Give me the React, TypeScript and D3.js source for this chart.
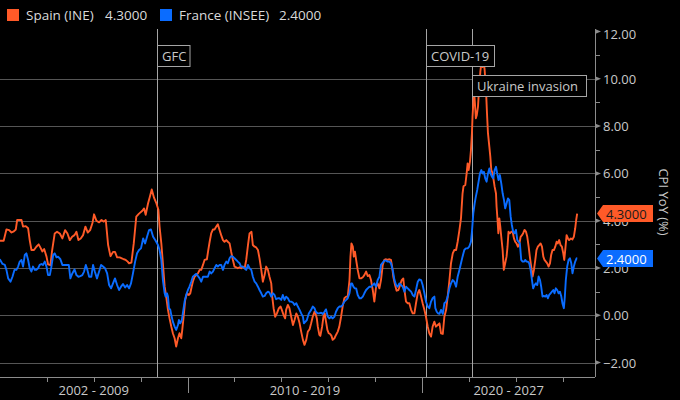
import React from "react";
import * as d3 from "d3";

// ---------- data ----------
const seriesNames = ["Spain (INE)", "France (INSEE)"];
const lastLabels = ["4.3000", "2.4000"];

// [months since Jan 2002, CPI YoY %]
const spainCpi: [number, number][] = [
  [0,3.15],[2,3.15],[3.4,3.63],[4.8,3.6],[6,3.5],[7.2,3.55],[8.2,3.63],[8.9,4.03],[9.9,4.03],[11.1,4.03],[11.9,3.75],[13.3,3.77],[14.5,3.68],[15.3,3.18],[16.2,2.76],[17.5,2.76],[18.7,2.9],[19.9,3.0],[20.8,2.86],[21.8,2.7],[22.7,2.8],[23.9,2.48],[24.7,2.15],[25.9,2.12],[26.7,2.7],[28.1,3.46],[29.3,3.53],[30.7,3.46],[32,3.25],[33.4,3.6],[34.6,3.46],[35.8,3.18],[37,3.32],[38.2,3.39],[39.2,3.53],[40.2,3.18],[41.4,3.25],[42.6,3.39],[43.8,3.75],[45,3.5],[46.2,3.6],[47.4,3.9],[48.2,4.27],[49.4,4.0],[50.8,3.93],[52,4.03],[53.2,3.96],[54.2,4.03],[55.4,2.97],[56.6,2.5],[57.9,2.68],[58.9,2.68],[60,2.45],[61.3,2.45],[62.4,2.41],[63.4,2.37],[64.4,2.34],[65.4,2.27],[66.1,2.2],[67.3,2.23],[68.5,3.04],[69.8,4.17],[71.2,4.3],[72.9,4.42],[73.8,4.52],[74.6,4.25],[75.8,4.73],[76.7,5.0],[77.7,5.32],[78.9,4.96],[80.1,4.73],[81.1,4.46],[81.7,3.75],[82.6,3.04],[83.4,2.2],[84.3,1.21],[85.1,0.79],[86,0.23],[86.8,-0.13],[87.7,-0.48],[88.5,-0.76],[89.4,-0.97],[90.2,-1.32],[91.1,-0.97],[91.9,-0.76],[92.8,-0.97],[93.3,-0.62],[94,-0.06],[94.8,0.65],[95.7,0.93],[96.7,0.86],[97.4,0.93],[98.1,1.21],[98.7,1.42],[99.6,1.63],[100.5,1.7],[101.3,1.77],[102.2,1.92],[103,1.92],[103.9,2.13],[104.7,2.34],[105.9,2.37],[106.6,2.76],[107.3,3.11],[108.1,3.46],[109,3.63],[109.8,3.63],[110.7,3.75],[111.5,3.85],[112.4,3.6],[113.2,3.39],[114.1,3.18],[114.9,3.11],[115.8,3.18],[116.6,3.11],[117.5,3.04],[118.3,2.69],[119.2,2.34],[120,2.06],[120.9,2.03],[121.7,1.99],[122.6,2.03],[123.4,1.99],[124.3,2.06],[125.2,1.99],[126,2.34],[126.9,2.97],[127.7,3.46],[128.7,3.53],[129.4,2.97],[130.3,2.9],[131.1,2.87],[132,2.76],[132.8,2.41],[133.7,1.92],[134.5,1.42],[135.4,1.7],[136.2,2.06],[137.1,1.92],[137.9,1.63],[138.8,1.35],[139.3,0.79],[140,0.3],[140.8,-0.06],[141.7,0.08],[142.7,0.3],[143.6,0.37],[144.2,0.23],[145.1,0.01],[145.9,-0.13],[146.4,0.23],[147.3,0.44],[148.1,0.3],[149,-0.06],[149.9,-0.41],[150.7,-0.2],[151.6,0.08],[152.4,-0.06],[153.3,-0.34],[154.1,-0.69],[155,-1.04],[155.8,-1.25],[156.7,-1.04],[157.5,-0.69],[158.4,-0.59],[159.2,-0.34],[160,-0.06],[160.9,0.15],[161.4,0.08],[162.1,-0.13],[162.6,-0.48],[163.4,-0.83],[163.9,-0.87],[164.8,-0.48],[165.5,-0.06],[166.1,0.08],[166.8,-0.27],[167.5,-0.62],[168.2,-0.76],[168.9,-0.79],[169.6,-0.87],[170.2,-1.04],[171.1,-0.97],[171.9,-0.83],[172.8,-0.69],[173.6,-0.48],[174.5,-0.06],[175.3,0.37],[176.2,0.72],[177.1,0.79],[177.9,0.79],[178.8,1.49],[179.3,2.48],[179.8,3.04],[180.5,2.9],[181,2.48],[181.6,2.69],[182.2,2.34],[183,1.92],[183.9,1.56],[184.7,1.56],[185.6,1.61],[186.4,1.7],[187.3,1.85],[188.1,1.66],[189,1.7],[189.8,1.49],[190.7,1.07],[191.5,0.58],[192.4,1.21],[193.2,1.35],[194.1,1.14],[194.9,1.49],[195.8,2.13],[196.6,2.34],[197.5,2.37],[198.3,2.34],[199.2,2.37],[200,2.34],[200.6,2.06],[201.2,1.63],[202.1,1.28],[202.9,1.04],[203.8,1.07],[204.7,1.28],[205.5,1.49],[206.3,1.56],[206.9,1.07],[207.7,0.58],[208.6,0.51],[209.4,0.51],[210.3,0.23],[211.1,0.08],[212,0.08],[212.8,0.51],[213.7,0.93],[214.5,1.07],[215.4,0.79],[216.2,0.51],[217.1,0.23],[217.9,-0.06],[218.8,-0.48],[219.6,-0.76],[220.5,-0.9],[221.3,-0.48],[222.2,-0.27],[223,-0.48],[223.9,-0.41],[224.8,-0.34],[225.6,-0.76],[226.5,-0.79],[227.3,-0.06],[228.2,0.23],[229,0.79],[229.9,1.49],[230.7,2.2],[231.6,2.62],[232.4,2.76],[233.3,2.76],[234.1,3.11],[235,3.6],[235.8,4.1],[236.6,5.15],[237.1,5.46],[238,5.51],[238.7,6.0],[239.2,6.42],[239.7,6.14],[240.4,6.5],[240.9,6.99],[241.4,7.7],[241.7,8.4],[242.2,9.1],[242.6,9.38],[243.1,8.75],[243.4,8.33],[243.9,8.47],[244.5,8.82],[245.1,9.67],[245.7,10.3],[246.2,10.65],[246.8,10.5],[247.4,10.8],[247.9,10.37],[248.6,9.52],[249.1,8.54],[249.6,7.7],[250.3,7.13],[250.8,6.71],[251.3,6.14],[252,6.0],[252.5,5.72],[253,5.44],[253.7,5.15],[254,4.59],[254.5,4.03],[254.9,3.47],[255.4,4.1],[255.9,3.75],[256.4,3.32],[257.1,2.76],[257.7,1.92],[258.4,2.2],[259.1,2.48],[259.6,2.9],[260.1,3.53],[260.8,3.47],[261.5,3.53],[262.2,3.53],[262.9,3.25],[263.5,3.11],[264.2,3.04],[264.9,2.9],[265.6,3.0],[266.3,3.32],[267,3.39],[267.6,3.47],[268.3,3.61],[269,3.54],[269.7,3.32],[270.4,2.9],[271,2.48],[271.7,2.06],[272.4,1.64],[273.1,1.92],[273.8,2.34],[274.4,2.76],[275.1,2.9],[275.8,2.97],[276.5,3.04],[277.2,2.9],[277.9,2.48],[278.5,2.34],[279.2,2.27],[279.9,2.2],[280.6,2.06],[281.3,2.2],[281.9,2.55],[282.6,2.76],[283.3,2.76],[284,2.9],[284.7,3.11],[285.3,3.04],[286,3.18],[286.7,2.97],[287.4,2.9],[288.1,2.62],[288.6,2.34],[289.1,2.76],[289.8,3.39],[290.5,3.25],[291.1,3.18],[292,3.25],[292.8,3.21],[293.5,3.32],[294.2,3.68],[294.7,4.03],[295.2,4.3]
];

const franceCpi: [number, number][] = [
  [0,2.37],[1.4,2.17],[2.6,2.13],[3.4,1.92],[4.3,1.56],[5.5,1.42],[6.5,1.63],[7.5,1.92],[8.5,1.92],[9.4,2.06],[10.2,2.27],[11.1,2.34],[11.9,2.06],[12.8,2.55],[13.6,2.62],[14.5,2.34],[15.3,1.99],[16.2,1.85],[17,2.06],[17.9,1.92],[18.7,1.92],[19.6,1.99],[20.4,2.13],[21.3,2.17],[22.1,2.13],[23,2.27],[23.9,2.06],[24.7,1.7],[25.6,1.7],[26.4,2.06],[27.3,2.55],[28.1,2.62],[29,2.45],[29.8,2.48],[31,2.37],[32,2.13],[33.2,2.13],[34.1,2.13],[35.3,2.13],[36.1,1.56],[37.1,1.77],[38.2,1.94],[39.2,1.7],[40.2,1.63],[41.2,1.66],[42.2,1.7],[43.1,1.85],[44,2.13],[44.8,1.92],[45.7,1.63],[46.8,1.63],[47.7,2.13],[48.6,1.85],[49.7,1.56],[50.8,1.85],[51.8,2.13],[52.8,2.06],[53.8,1.99],[54.9,1.77],[55.9,1.28],[56.9,1.14],[57.9,1.35],[58.9,1.56],[60,1.28],[61,1.07],[62,1.21],[63,1.32],[64.1,1.18],[65.1,1.28],[66.1,1.14],[67.1,1.35],[68.1,1.77],[69.2,2.27],[70.2,2.62],[71.2,2.76],[72.2,2.83],[73.3,3.25],[74.3,3.04],[75.3,3.32],[76.3,3.6],[77.3,3.63],[78.4,3.32],[79.7,3.15],[80.9,2.97],[81.7,2.76],[82.6,2.34],[83.4,1.49],[84.3,0.93],[84.8,0.79],[85.5,0.93],[86,0.79],[86.5,0.3],[87.2,0.23],[87.7,0.01],[88.5,-0.27],[89.4,-0.48],[90.2,-0.62],[91.1,-0.41],[91.6,-0.2],[92.3,-0.34],[93.1,-0.2],[93.6,0.08],[94.5,0.58],[95.3,0.86],[96.2,1.07],[97,1.21],[97.9,1.42],[98.7,1.63],[99.6,1.7],[100.5,1.75],[101.3,1.66],[102.2,1.56],[103,1.42],[103.9,1.63],[104.7,1.63],[105.6,1.63],[106.4,1.63],[107.3,1.85],[108.1,1.77],[109,1.85],[109.8,1.99],[110.7,2.13],[111.5,2.06],[112.4,2.13],[113.2,2.13],[114.1,1.92],[114.9,2.13],[115.8,2.27],[116.6,2.2],[117.5,2.41],[118.3,2.5],[119.2,2.48],[120,2.41],[120.9,2.34],[121.7,2.27],[122.6,2.2],[123.4,2.06],[124.3,2.06],[125.2,1.99],[126,1.92],[126.9,2.13],[127.7,1.99],[128.6,1.92],[129.4,1.63],[130.3,1.42],[131.1,1.35],[132,1.21],[132.8,1.07],[133.7,0.93],[134.5,0.79],[135.4,0.82],[136.2,0.93],[137.1,1.0],[137.9,0.96],[138.8,0.79],[139.6,0.93],[140.5,0.86],[141.3,0.68],[142.2,0.72],[143,0.72],[143.9,0.65],[144.7,0.86],[145.6,0.65],[146.4,0.79],[147.3,0.72],[148.2,0.58],[149,0.58],[149.9,0.54],[150.7,0.44],[151.6,0.51],[152.4,0.37],[153.3,0.23],[154.1,0.08],[155,-0.06],[155.5,-0.34],[156.3,-0.27],[157,-0.2],[158,0.08],[159.2,0.23],[160,0.37],[160.9,0.3],[161.6,0.15],[162.6,0.08],[163.4,0.08],[164.3,0.11],[165.1,0.06],[166,0.15],[166.8,0.25],[167.7,-0.06],[168.5,-0.13],[169.4,-0.06],[170.2,-0.13],[171.1,-0.06],[171.9,0.15],[172.8,0.3],[173.6,0.37],[174.5,0.37],[175.3,0.44],[176.2,0.58],[177.1,0.65],[177.9,0.72],[178.8,0.93],[179.6,1.35],[180.1,1.35],[180.8,1.21],[181.5,1.14],[182.2,1.14],[183,0.86],[183.9,0.72],[184.7,0.72],[185.6,0.79],[186.4,0.93],[187.3,1.07],[188.1,1.14],[189,1.21],[189.8,1.21],[190.7,1.28],[191.5,1.35],[192.4,1.21],[193.2,1.49],[194.1,1.63],[194.9,2.13],[195.8,2.23],[196.6,2.31],[197.5,2.31],[198.3,2.27],[199.2,2.27],[200,2.2],[200.9,1.92],[201.8,1.49],[202.6,1.28],[203.5,1.21],[204.3,1.35],[205.2,1.28],[206,1.21],[206.9,1.0],[207.7,1.21],[208.6,1.14],[209.4,1.07],[210.3,1.0],[211.1,0.86],[212,0.79],[212.8,1.07],[213.7,1.42],[214.5,1.52],[215.4,1.49],[216.2,1.28],[217.1,0.93],[217.9,0.58],[218.8,0.37],[219.6,0.3],[220.5,0.58],[221.3,0.72],[222.2,0.79],[222.7,0.3],[223.4,0.15],[224.1,0.08],[224.8,0.06],[225.6,0.23],[226.5,0.06],[227.3,0.51],[228.2,0.58],[229,0.79],[229.9,1.14],[230.7,1.35],[231.6,1.49],[232.4,1.42],[233.3,1.21],[234.1,1.63],[235,1.92],[235.8,2.2],[236.6,2.48],[237.5,2.76],[238.3,2.83],[239.2,2.83],[240,2.9],[240.9,3.11],[241.4,3.53],[242.1,4.31],[242.8,4.73],[243.4,5.02],[244.1,5.3],[244.8,5.65],[245.5,6.0],[246.2,6.14],[246.9,6.0],[247.5,6.07],[248.2,5.79],[248.9,5.65],[249.6,6.0],[250.3,6.21],[250.9,6.0],[251.6,5.86],[252.3,5.79],[253,6.14],[253.7,6.28],[254.3,6.0],[255,5.72],[255.7,5.93],[256.4,5.58],[257.1,5.16],[257.8,4.87],[258.4,4.52],[259.1,4.73],[259.8,4.94],[260.5,4.87],[261.2,4.17],[261.8,3.82],[262.5,3.53],[263.2,3.47],[263.9,3.61],[264.6,3.18],[265.2,3.11],[265.9,3.04],[266.6,2.34],[267.3,2.27],[268,2.27],[268.7,2.34],[269.3,2.27],[270,2.27],[270.7,2.2],[271.4,1.92],[272.1,1.49],[272.7,1.14],[273.4,1.28],[274.1,1.35],[274.8,1.28],[275.5,1.64],[276.2,1.49],[276.8,1.21],[277.5,0.79],[278.2,0.82],[278.9,0.79],[279.6,0.86],[280.2,0.72],[280.9,0.86],[281.6,0.93],[282.3,1.0],[283,1.07],[283.6,0.93],[284.3,1.14],[285,1.07],[285.7,0.93],[286.4,1.0],[287.1,0.79],[287.7,0.5],[288.4,0.3],[288.9,0.79],[289.4,1.49],[290.1,2.06],[290.8,2.34],[291.5,2.41],[292.2,2.2],[292.8,1.78],[293.5,2.06],[294.2,2.27],[294.9,2.41],[295.2,2.4]
];

const yMajorTicks = [-2, 0, 2, 4, 6, 8, 10, 12];
const yMinorTicks = [-1, 1, 3, 5, 7, 9, 11];
const yGridTicks = [-2, 0, 2, 4, 6, 8, 10];
const xMinorTickYears = [2004, 2006, 2008, 2012, 2014, 2016, 2018, 2022, 2024, 2026];
const xMajorTickYears = [2010, 2020];
const decadeStarts = [2002, 2010, 2020];
const decadeEnds = [2010, 2020, 2030];
const decadeLabels = ["2002 - 2009", "2010 - 2019", "2020 - 2027"];
const eventNames = ["GFC", "COVID-19", "Ukraine invasion"];
const eventYears = [2008.71, 2020.15, 2022.13];
const eventRows = [0, 0, 1];

// ---------- styles ----------
const W = 680, H = 400;
const PL = 0, PR = 595, PT = 29, PB = 377;
const ORANGE = "#ff5a28";
const BLUE = "#0a6cff";
const TEXT = "#c9c9c9";
const GRID = "#555555";
const AXIS = "#8c8c8c";
const FONT = "'Open Sans', 'Liberation Sans', sans-serif";
const eventBoxW = [32.5, 68, 114];

export default function App() {
  const x = d3.scaleLinear().domain([2002.01, 2027.36]).range([PL, PR]);
  const y = d3.scaleLinear().domain([-2, 12]).range([362.6, 31.5]);
  const toYear = (m: number) => 2002 + m / 12;
  const line = d3
    .line<[number, number]>()
    .x((d) => x(toYear(d[0])))
    .y((d) => y(d[1]));

  const series = [
    { name: seriesNames[0], data: spainCpi, color: ORANGE, label: lastLabels[0], textColor: "#1b1b1b" },
    { name: seriesNames[1], data: franceCpi, color: BLUE, label: lastLabels[1], textColor: "#ffffff" },
  ];

  return (
    <div style={{ position: "fixed", left: 0, top: 0, width: W, height: H, background: "#000" }}>
      <svg width={W} height={H} style={{ display: "block", fontFamily: FONT }}>
        <rect x={0} y={0} width={W} height={H} fill="#000" />
        <defs>
          <clipPath id="plotClip">
            <rect x={PL} y={PT} width={PR - PL} height={PB - PT} />
          </clipPath>
        </defs>

        {/* legend */}
        <rect x={7} y={9} width={12} height={12} fill={ORANGE} />
        <text x={26} y={20} fontSize={13.5} fill="#dadada">{seriesNames[0]}</text>
        <text x={105} y={20} fontSize={13.5} fill="#dadada">{lastLabels[0]}</text>
        <rect x={160} y={9} width={12} height={12} fill={BLUE} />
        <text x={179} y={20} fontSize={13.5} fill="#dadada">{seriesNames[1]}</text>
        <text x={279} y={20} fontSize={13.5} fill="#dadada">{lastLabels[1]}</text>

        {/* grid */}
        {yGridTicks.map((t) => (
          <line key={"g" + t} x1={PL} x2={PR} y1={Math.round(y(t)) + 0.5} y2={Math.round(y(t)) + 0.5} stroke={GRID} strokeWidth={1} />
        ))}

        {/* event lines */}
        {eventYears.map((yr, i) => (
          <line key={"ev" + i} x1={Math.round(x(yr)) + 0.5} x2={Math.round(x(yr)) + 0.5} y1={PT} y2={PB} stroke="#a5a5a5" strokeWidth={1} />
        ))}

        {/* series */}
        <g clipPath="url(#plotClip)">
          {series.map((s) => (
            <path key={s.name} d={line(s.data) || ""} fill="none" stroke={s.color} strokeWidth={1.9} strokeLinejoin="round" />
          ))}
        </g>

        {/* event boxes */}
        {eventYears.map((yr, i) => {
          const bx = Math.round(x(yr)) + 0.5;
          const by = eventRows[i] === 0 ? 45.5 : 75.5;
          const bh = 21;
          return (
            <g key={"eb" + i}>
              <rect x={bx} y={by} width={eventBoxW[i]} height={bh} fill="#000" stroke="#a5a5a5" strokeWidth={1} />
              <text x={bx + 4.5} y={by + bh / 2} dominantBaseline="central" fontSize={13} fill={TEXT}>
                {eventNames[i]}
              </text>
            </g>
          );
        })}

        {/* x axis */}
        <line x1={PL} x2={PR} y1={PB + 0.5} y2={PB + 0.5} stroke={AXIS} strokeWidth={1} />
        {xMinorTickYears.map((yr) => (
          <line key={"xm" + yr} x1={Math.round(x(yr)) + 0.5} x2={Math.round(x(yr)) + 0.5} y1={PB} y2={PB + 5} stroke={AXIS} strokeWidth={1} />
        ))}
        {xMajorTickYears.map((yr) => (
          <line key={"xM" + yr} x1={Math.round(x(yr)) + 0.5} x2={Math.round(x(yr)) + 0.5} y1={PB} y2={PB + 16} stroke={AXIS} strokeWidth={1} />
        ))}
        {decadeLabels.map((lab, i) => {
          const a = Math.max(PL, x(decadeStarts[i]));
          const b = Math.min(PR, x(decadeEnds[i]));
          return (
            <text key={lab} x={(a + b) / 2} y={395} textAnchor="middle" fontSize={13} fill={TEXT}>
              {lab}
            </text>
          );
        })}

        {/* y axis (right) */}
        <line x1={PR + 0.5} x2={PR + 0.5} y1={PT} y2={PB} stroke={AXIS} strokeWidth={1} />
        {yMinorTicks.map((t) => (
          <line key={"ym" + t} x1={PR} x2={PR + 5} y1={Math.round(y(t)) + 0.5} y2={Math.round(y(t)) + 0.5} stroke={AXIS} strokeWidth={1} />
        ))}
        {yMajorTicks.map((t) => {
          const yy = y(t);
          return (
            <g key={"yM" + t}>
              <path d={`M${PR},${yy - 2.5}L${PR + 6},${yy}L${PR},${yy + 2.5}Z`} fill={AXIS} />
              <text x={603} y={Math.max(yy, 34.3)} dominantBaseline="central" fontSize={13} fill={TEXT}>
                {d3.format(".2f")(t)}
              </text>
            </g>
          );
        })}
        <text transform={`translate(664,202) rotate(90)`} textAnchor="middle" dominantBaseline="central" fontSize={13} fill={TEXT}>
          CPI YoY (%)
        </text>

        {/* last value labels */}
        {series.map((s) => {
          const last = s.data[s.data.length - 1];
          const yy = y(last[1]);
          const h = 8.5;
          return (
            <g key={"lv" + s.name}>
              <path d={`M597,${yy}L603,${yy - h}L653,${yy - h}L653,${yy + h}L603,${yy + h}Z`} fill={s.color} />
              <text x={606} y={yy} dominantBaseline="central" fontSize={13} fill={s.textColor}>
                {s.label}
              </text>
            </g>
          );
        })}
      </svg>
    </div>
  );
}
